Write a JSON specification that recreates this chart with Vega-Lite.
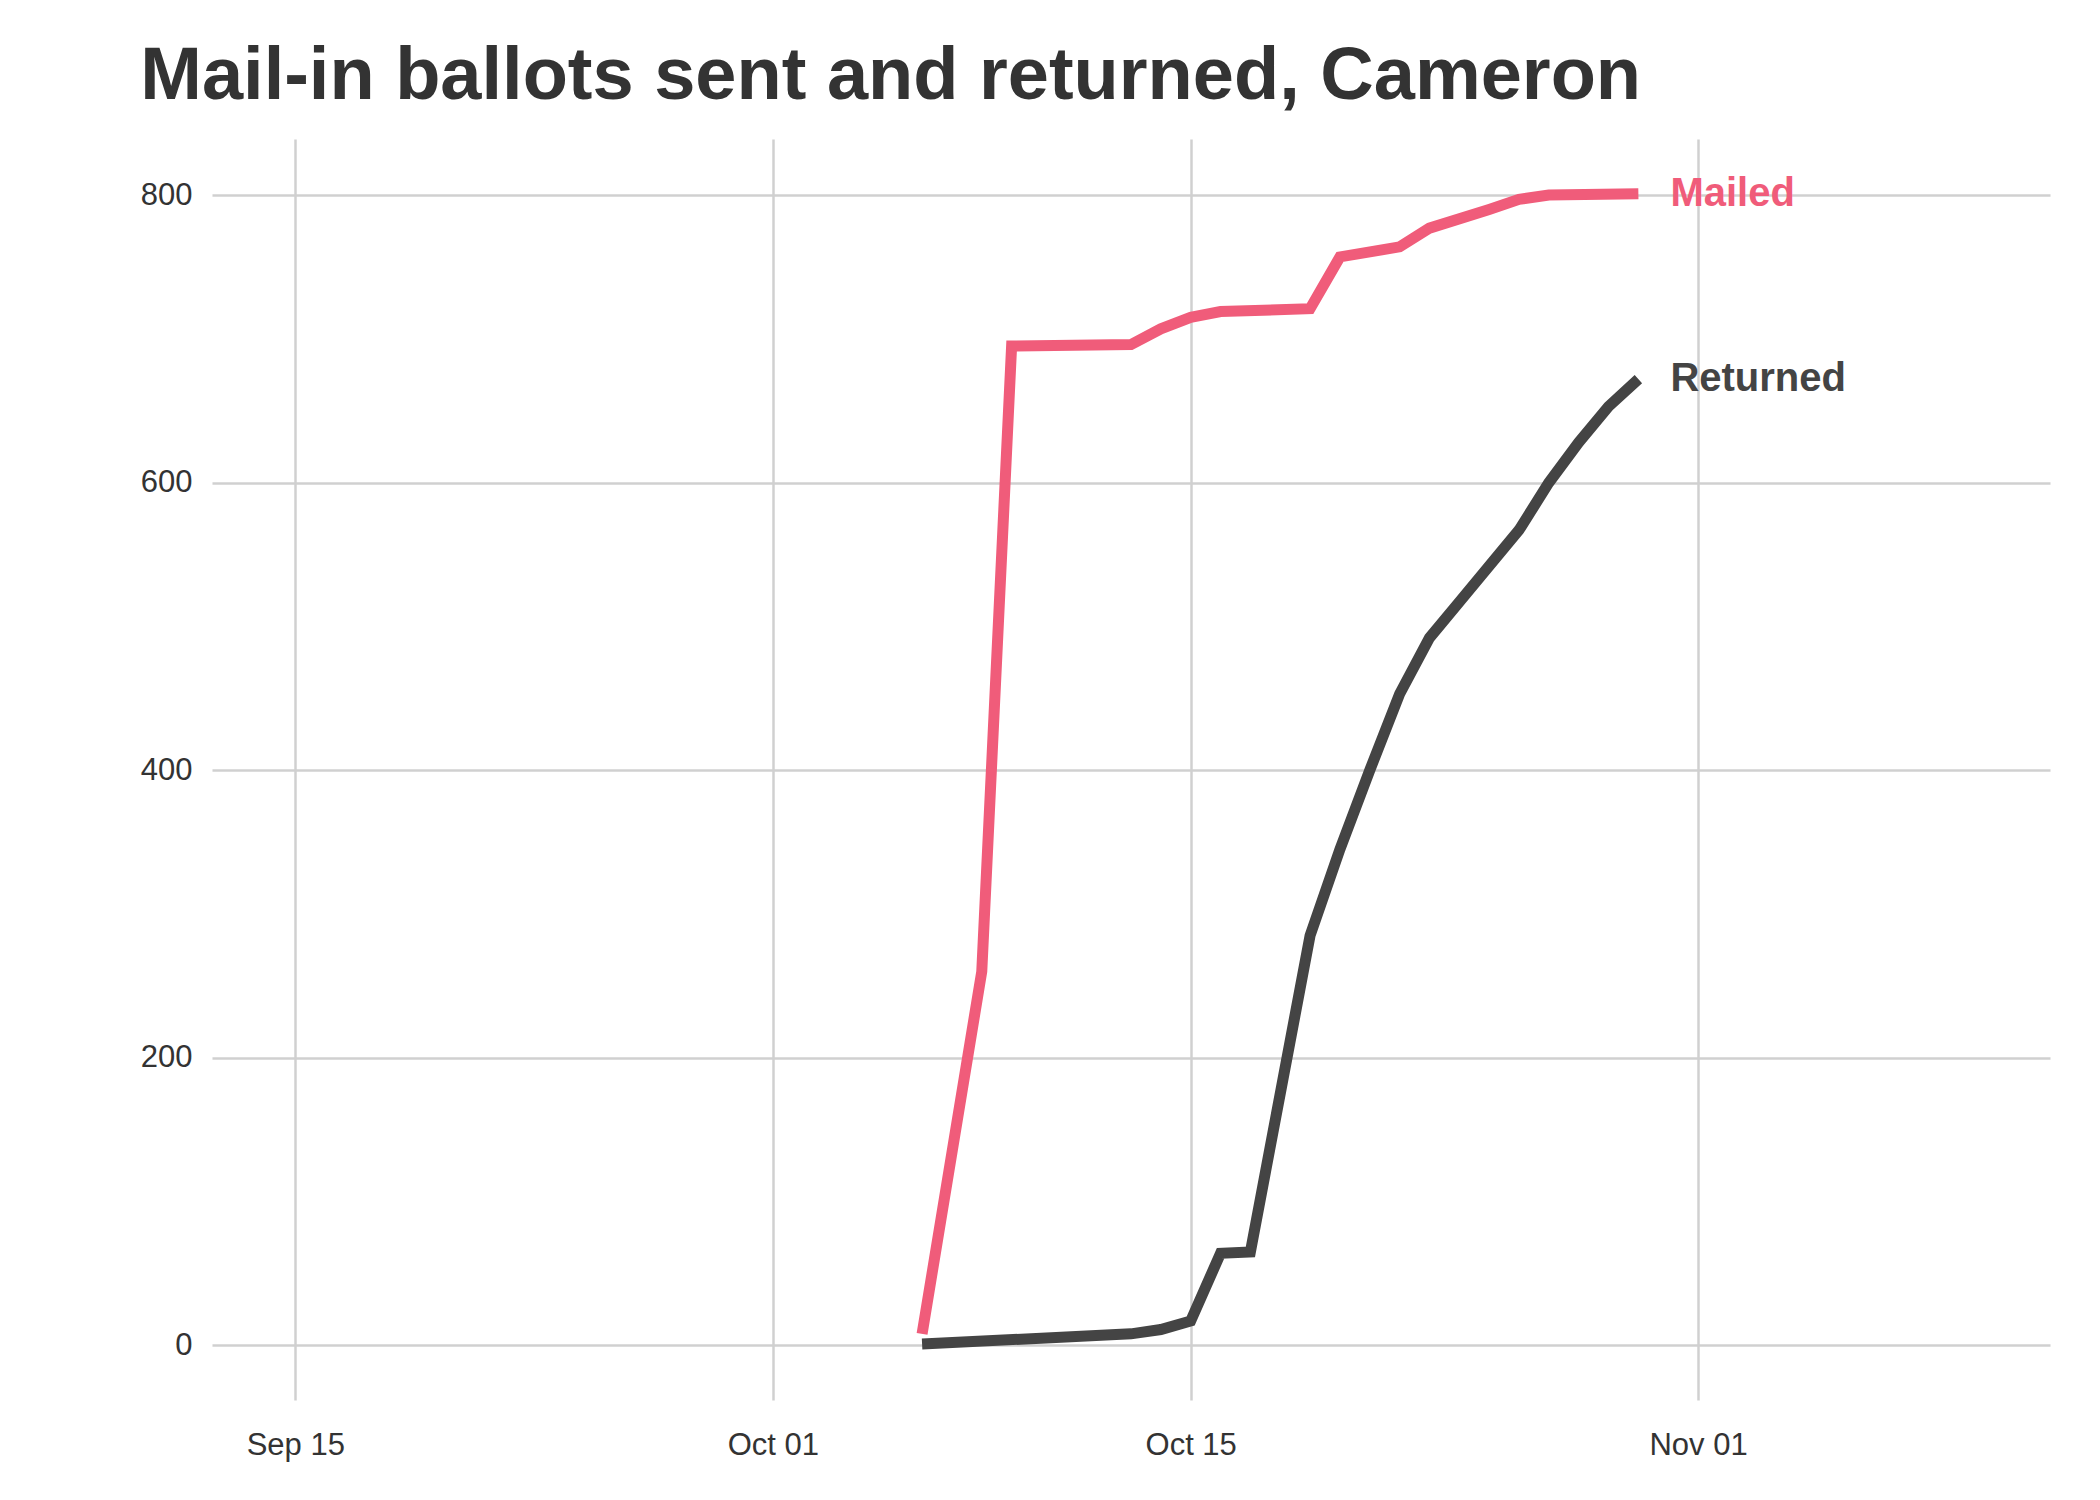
{
  "$schema": "https://vega.github.io/schema/vega-lite/v6.json",
  "width": 2100,
  "height": 1500,
  "autosize": {"type": "fit", "contains": "padding"},
  "padding": {"left": 140, "right": 50, "top": 40, "bottom": 40},
  "background": "white",
  "title": {"text": "Mail-in ballots sent and returned, Cameron", "anchor": "start", "fontSize": 74, "fontWeight": "bold", "color": "#333333", "font": "Liberation Sans", "offset": 24},
  "data": {
    "values": [
      {"date": "2020-10-06", "series": "Mailed", "count": 8},
      {"date": "2020-10-08", "series": "Mailed", "count": 260},
      {"date": "2020-10-09", "series": "Mailed", "count": 695},
      {"date": "2020-10-13", "series": "Mailed", "count": 696},
      {"date": "2020-10-14", "series": "Mailed", "count": 707},
      {"date": "2020-10-15", "series": "Mailed", "count": 715},
      {"date": "2020-10-16", "series": "Mailed", "count": 719},
      {"date": "2020-10-19", "series": "Mailed", "count": 721},
      {"date": "2020-10-20", "series": "Mailed", "count": 757},
      {"date": "2020-10-22", "series": "Mailed", "count": 764},
      {"date": "2020-10-23", "series": "Mailed", "count": 777},
      {"date": "2020-10-25", "series": "Mailed", "count": 790},
      {"date": "2020-10-26", "series": "Mailed", "count": 797},
      {"date": "2020-10-27", "series": "Mailed", "count": 800},
      {"date": "2020-10-30", "series": "Mailed", "count": 801},
      {"date": "2020-10-06", "series": "Returned", "count": 1},
      {"date": "2020-10-13", "series": "Returned", "count": 8},
      {"date": "2020-10-14", "series": "Returned", "count": 11},
      {"date": "2020-10-15", "series": "Returned", "count": 17},
      {"date": "2020-10-16", "series": "Returned", "count": 64},
      {"date": "2020-10-17", "series": "Returned", "count": 65},
      {"date": "2020-10-19", "series": "Returned", "count": 285},
      {"date": "2020-10-20", "series": "Returned", "count": 345},
      {"date": "2020-10-21", "series": "Returned", "count": 400},
      {"date": "2020-10-22", "series": "Returned", "count": 453},
      {"date": "2020-10-23", "series": "Returned", "count": 492},
      {"date": "2020-10-24", "series": "Returned", "count": 517},
      {"date": "2020-10-25", "series": "Returned", "count": 542},
      {"date": "2020-10-26", "series": "Returned", "count": 567},
      {"date": "2020-10-27", "series": "Returned", "count": 600},
      {"date": "2020-10-28", "series": "Returned", "count": 628},
      {"date": "2020-10-29", "series": "Returned", "count": 653},
      {"date": "2020-10-30", "series": "Returned", "count": 672}
    ]
  },
  "encoding": {
    "x": {
      "field": "date", "type": "temporal", "timeUnit": "utcyearmonthdate", "title": null,
      "scale": {"type": "utc", "domain": ["2020-09-12T05:00:00Z", "2020-11-12T19:00:00Z"]},
      "axis": {"values": ["2020-09-15", "2020-10-01", "2020-10-15", "2020-11-01"], "labelExpr": "utcFormat(datum.value, '%b %d')", "labelFontSize": 31, "labelColor": "#333333", "labelPadding": 30, "domain": false, "ticks": false, "grid": true, "gridColor": "#d0d0d0", "gridWidth": 2.5, "labelFont": "Liberation Sans"}
    },
    "y": {
      "field": "count", "type": "quantitative", "title": null,
      "scale": {"domain": [-38, 839], "nice": false},
      "axis": {"values": [0, 200, 400, 600, 800], "labelFontSize": 31, "labelColor": "#333333", "labelPadding": 20, "domain": false, "ticks": false, "grid": true, "gridColor": "#d0d0d0", "gridWidth": 2.5, "labelFont": "Liberation Sans"}
    },
    "color": {"field": "series", "type": "nominal", "legend": null, "scale": {"domain": ["Mailed", "Returned"], "range": ["#F05C7A", "#444444"]}}
  },
  "layer": [
    {"mark": {"type": "line", "strokeWidth": 11}},
    {
      "transform": [{"filter": "datum.count == 801 || datum.count == 672"}],
      "mark": {"type": "text", "align": "left", "baseline": "middle", "dx": 32, "fontSize": 40, "fontWeight": "bold", "font": "Liberation Sans"},
      "encoding": {"text": {"field": "series"}}
    }
  ],
  "config": {"view": {"stroke": null}}
}
